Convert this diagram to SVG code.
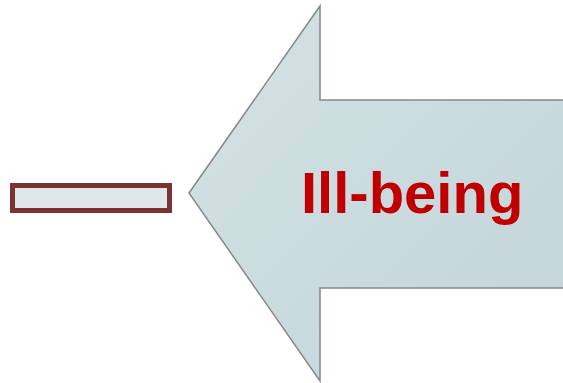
<svg xmlns="http://www.w3.org/2000/svg" width="563" height="383" viewBox="0 0 563 383">
<defs>
<linearGradient id="g" x1="0" y1="0" x2="1" y2="1">
<stop offset="0" stop-color="#d3e2e5"/>
<stop offset="1" stop-color="#c2d5d9"/>
</linearGradient>
<style>
.lbl{font-family:"Liberation Sans",Arial,sans-serif;font-weight:bold;font-size:58px;fill:#c00000}
</style>
</defs>
<rect width="563" height="383" fill="#ffffff"/>
<g id="bar">
<rect x="12.5" y="185.5" width="157" height="25" fill="#dfe6e8" stroke="#7b3232" stroke-width="5"/>
</g>
<g id="arrow">
<polygon points="189,193 320,6 320,100 565,100 565,288 320,288 320,381" fill="url(#g)" stroke="#888888" stroke-width="1.5"/>
<text class="lbl" x="301" y="213">Ill-being</text>
</g>
</svg>
